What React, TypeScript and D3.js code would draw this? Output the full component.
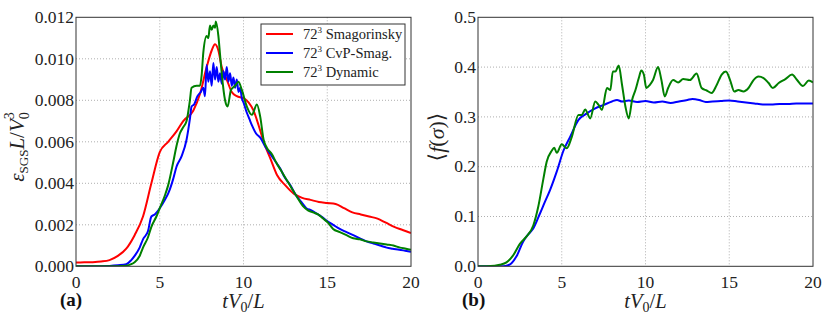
import React from "react";
import * as d3 from "d3";

// ---------- data ----------
const xTicks = [0, 5, 10, 15, 20];
const leftYTicks = [0, 0.002, 0.004, 0.006, 0.008, 0.01, 0.012];
const rightYTicks = [0, 0.1, 0.2, 0.3, 0.4, 0.5];

const smagT = [0,0.5,1,1.5,2,2.5,3,3.5,4,4.5,5,5.5,6,6.4,7,7.4,7.8,8.1,8.3,8.5,8.7,9,9.3,9.6,10,10.3,10.6,10.9,11.2,11.6,12,12.5,13,13.5,14,14.5,15,15.5,16,16.5,17,17.5,18,18.5,19,19.5,20];
const smagV = [0.00018,0.00019,0.0002,0.00023,0.0003,0.0005,0.00085,0.0015,0.0024,0.004,0.0055,0.006,0.0065,0.007,0.0075,0.0083,0.0096,0.0104,0.0107,0.0104,0.0096,0.009,0.0084,0.0082,0.0081,0.0079,0.0075,0.0068,0.006,0.0052,0.0044,0.0039,0.0035,0.0033,0.0032,0.0031,0.00305,0.003,0.0028,0.0026,0.0025,0.0024,0.0023,0.0021,0.0019,0.00175,0.0016];

const cvpT = [0,1,2,2.5,3,3.3,3.5,3.8,4,4.3,4.5,4.7,5,5.3,5.5,5.8,6,6.3,6.6,6.8,6.9,7.05,7.25,7.45,7.6,7.7,7.8,7.9,8.0,8.1,8.2,8.3,8.4,8.5,8.6,8.7,8.8,8.9,9.0,9.1,9.2,9.3,9.4,9.5,9.6,9.7,9.8,9.9,10.0,10.2,10.35,10.5,10.75,11.0,11.35,11.7,11.95,12.2,12.45,12.8,13.15,13.45,13.75,14.05,14.35,14.65,14.95,15.35,15.75,16.15,16.55,16.95,17.35,17.75,18.15,18.55,18.9,19.3,19.65,20];
const cvpV = [0,0,0.00002,0.00005,0.0001,0.0003,0.0005,0.0009,0.0013,0.0017,0.0024,0.0025,0.0028,0.0032,0.0035,0.0042,0.0048,0.0053,0.0061,0.0071,0.0077,0.0078,0.0082,0.0084,0.0086,0.0082,0.0097,0.0089,0.0094,0.0087,0.0098,0.009,0.0096,0.0089,0.0093,0.0088,0.0094,0.009,0.0096,0.0089,0.0093,0.0087,0.0091,0.0086,0.009,0.0084,0.0086,0.0081,0.0079,0.0074,0.0071,0.0068,0.0064,0.0062,0.0057,0.0053,0.005,0.0047,0.0043,0.0039,0.0034,0.0031,0.0028,0.0027,0.00255,0.0024,0.0022,0.002,0.0018,0.00165,0.0015,0.00135,0.0012,0.0011,0.001,0.0009,0.00085,0.0008,0.00075,0.0007];

const dynT = [0,1,2,3,3.3,3.5,3.8,4,4.3,4.5,4.8,5,5.3,5.5,5.8,6,6.2,6.4,6.6,6.8,6.9,7.2,7.4,7.5,7.6,7.8,7.9,8.0,8.1,8.2,8.3,8.35,8.5,8.6,8.7,8.9,9.05,9.25,9.5,9.7,9.9,10.2,10.5,10.8,11.0,11.2,11.4,11.7,11.95,12.25,12.55,12.85,13.15,13.55,13.85,14.15,14.45,14.75,15.05,15.35,15.75,16.15,16.55,16.95,17.35,17.75,18.15,18.55,18.95,19.35,19.7,20];
const dynV = [0,0,0,0.00003,0.0001,0.0002,0.0005,0.0009,0.0014,0.0019,0.0024,0.0028,0.0034,0.0039,0.005,0.0058,0.0064,0.0067,0.007,0.008,0.0086,0.0087,0.0087,0.0092,0.0103,0.0111,0.011,0.0116,0.0114,0.0116,0.0115,0.0118,0.0111,0.0102,0.0093,0.008,0.0077,0.0085,0.0087,0.0089,0.0085,0.0077,0.0073,0.0078,0.0072,0.0061,0.0057,0.0054,0.005,0.0046,0.0042,0.0038,0.0034,0.0029,0.0027,0.0026,0.0025,0.0023,0.0021,0.0018,0.00165,0.0015,0.00135,0.0013,0.0012,0.00115,0.0011,0.00105,0.001,0.0009,0.00085,0.0008];

const cvpFT = [0,1,1.5,1.8,2,2.3,2.7,3,3.3,3.7,4,4.3,4.7,5.1,5.5,6,6.5,7,7.5,8,8.3,8.6,9,9.5,10,10.5,11,11.5,12,12.5,12.8,13.2,13.6,14,14.5,15,15.5,16,16.5,17,17.5,18,18.5,19,19.5,20];
const cvpFV = [0,0,0,0.002,0.006,0.02,0.05,0.064,0.076,0.106,0.13,0.153,0.19,0.232,0.26,0.294,0.307,0.317,0.324,0.331,0.334,0.331,0.333,0.33,0.332,0.329,0.331,0.328,0.331,0.334,0.336,0.334,0.33,0.331,0.332,0.333,0.331,0.329,0.327,0.325,0.325,0.326,0.326,0.327,0.327,0.327];

const dynFT = [0,0.5,1,1.3,1.7,2.1,2.5,2.9,3.3,3.6,3.9,4.1,4.4,4.55,4.7,5.0,5.3,5.6,6.0,6.2,6.4,6.7,7.0,7.2,7.4,7.7,7.9,8.05,8.2,8.4,8.6,8.8,9.0,9.2,9.4,9.6,9.75,9.9,10.05,10.25,10.45,10.75,10.95,11.15,11.35,11.65,11.95,12.25,12.65,13.05,13.35,13.65,13.95,14.25,14.55,14.8,15.05,15.3,15.55,15.85,16.15,16.45,16.75,17.05,17.35,17.6,17.95,18.35,18.75,19.05,19.4,19.75,20];
const dynFV = [0,0,0.001,0.003,0.008,0.022,0.045,0.06,0.082,0.12,0.175,0.21,0.232,0.238,0.228,0.245,0.237,0.26,0.304,0.304,0.315,0.297,0.331,0.324,0.314,0.358,0.354,0.391,0.391,0.403,0.364,0.321,0.297,0.334,0.354,0.378,0.393,0.385,0.358,0.364,0.374,0.4,0.374,0.341,0.358,0.374,0.369,0.376,0.374,0.387,0.358,0.353,0.348,0.364,0.385,0.391,0.374,0.351,0.354,0.351,0.358,0.374,0.381,0.378,0.368,0.358,0.368,0.376,0.385,0.374,0.362,0.373,0.369];

const legendLabels = ["Smagorinsky", "CvP-Smag.", "Dynamic"];
const colors = ["#ff0000", "#0000ff", "#008000"];

const FONT = "'Liberation Serif', 'Times New Roman', 'DejaVu Serif', serif";

type Series = { t: number[]; v: number[]; color: string };

function Panel(props: {
  id: string;
  x0: number;
  x1: number;
  y0: number;
  y1: number;
  yMax: number;
  yTicks: number[];
  fmt: (v: number) => string;
  series: Series[];
}) {
  const { id, x0, x1, y0, y1, yMax, yTicks, fmt, series } = props;
  const x = d3.scaleLinear().domain([0, 20]).range([x0, x1]);
  const y = d3.scaleLinear().domain([0, yMax]).range([y1, y0]);
  const line = d3
    .line<[number, number]>()
    .x((d) => x(d[0]))
    .y((d) => y(d[1]))
    .curve(d3.curveMonotoneX);
  return (
    <g>
      <defs>
        <clipPath id={id}>
          <rect x={x0} y={y0 - 2} width={x1 - x0} height={y1 - y0 + 2} />
        </clipPath>
      </defs>
      {xTicks.slice(1, -1).map((t) => (
        <line key={"gx" + t} x1={x(t)} x2={x(t)} y1={y0} y2={y1} stroke="#9a9a9a" strokeWidth={0.8} strokeDasharray="1,2" />
      ))}
      {yTicks.slice(1, -1).map((t) => (
        <line key={"gy" + t} x1={x0} x2={x1} y1={y(t)} y2={y(t)} stroke="#9a9a9a" strokeWidth={0.8} strokeDasharray="1,2" />
      ))}
      <g clipPath={`url(#${id})`}>
        {series.map((s, i) => (
          <path
            key={i}
            d={line(s.t.map((t, k) => [t, s.v[k]] as [number, number])) || ""}
            fill="none"
            stroke={s.color}
            strokeWidth={2}
            strokeLinejoin="round"
          />
        ))}
      </g>
      <rect x={x0} y={y0} width={x1 - x0} height={y1 - y0} fill="none" stroke="#333" strokeWidth={1} />
      {xTicks.map((t) => (
        <text key={"tx" + t} x={x(t)} y={288} textAnchor="middle" fontFamily={FONT} fontSize={17.5} fill="#222">
          {t}
        </text>
      ))}
      {yTicks.map((t) => (
        <text key={"ty" + t} x={x0 - 2} y={y(t)} dy="0.33em" textAnchor="end" fontFamily={FONT} fontSize={17.5} fill="#222">
          {fmt(t)}
        </text>
      ))}
      <text x={(x0 + x1) / 2} y={308} textAnchor="middle" fontFamily={FONT} fontSize={20.5} fill="#222">
        <tspan fontStyle="italic">tV</tspan>
        <tspan fontSize={14} dy={4}>0</tspan>
        <tspan dy={-4}>/</tspan>
        <tspan fontStyle="italic">L</tspan>
      </text>
    </g>
  );
}

export default function App() {
  const leftSeries: Series[] = [
    { t: smagT, v: smagV, color: colors[0] },
    { t: cvpT, v: cvpV, color: colors[1] },
    { t: dynT, v: dynV, color: colors[2] },
  ];
  const rightSeries: Series[] = [
    { t: cvpFT, v: cvpFV, color: colors[1] },
    { t: dynFT, v: dynFV, color: colors[2] },
  ];
  const legY = [34, 53, 72];
  return (
    <svg width={830} height={323} style={{ position: "absolute", left: 0, top: 0, background: "#fff" }}>
      <rect x={0} y={0} width={830} height={323} fill="#fff" />
      <Panel id="clipA" x0={76} x1={411} y0={17.3} y1={266.3} yMax={0.012} yTicks={leftYTicks} fmt={(v) => v.toFixed(3)} series={leftSeries} />
      <Panel id="clipB" x0={478} x1={813} y0={17.3} y1={266.3} yMax={0.5} yTicks={rightYTicks} fmt={(v) => v.toFixed(1)} series={rightSeries} />

      {/* legend */}
      <rect x={261} y={24} width={144} height={61} fill="#fff" stroke="#333" strokeWidth={1} />
      {legendLabels.map((lab, i) => (
        <g key={lab}>
          <line x1={266} x2={293} y1={legY[i]} y2={legY[i]} stroke={colors[i]} strokeWidth={2} />
          <text x={303} y={legY[i]} dy="0.35em" fontFamily={FONT} fontSize={14.5} fill="#222">
            <tspan>72</tspan>
            <tspan fontSize={9} dy={-6}>3</tspan>
            <tspan dy={6}>{" " + lab}</tspan>
          </text>
        </g>
      ))}

      {/* panel labels */}
      <text x={60} y={306} fontFamily={FONT} fontSize={19} fontWeight="bold" fill="#111">(a)</text>
      <text x={462} y={306} fontFamily={FONT} fontSize={19} fontWeight="bold" fill="#111">(b)</text>

      {/* y labels */}
      <text transform="translate(24,147) rotate(-90)" textAnchor="middle" fontFamily={FONT} fontSize={21} fill="#222">
        <tspan fontStyle="italic">ε</tspan>
        <tspan fontSize={13} dy={4}>SGS</tspan>
        <tspan fontStyle="italic" dy={-4}>L</tspan>
        <tspan>/</tspan>
        <tspan fontStyle="italic">V</tspan>
        <tspan fontSize={14} dy={5}>0</tspan>
        <tspan fontSize={14} dx={-7} dy={-15}>3</tspan>
      </text>
      <text transform="translate(444,137) rotate(-90)" textAnchor="middle" fontFamily={FONT} fontSize={22} fill="#222">
        <tspan>⟨</tspan>
        <tspan fontStyle="italic">f</tspan>
        <tspan>(</tspan>
        <tspan fontStyle="italic">σ</tspan>
        <tspan>)⟩</tspan>
      </text>
    </svg>
  );
}
